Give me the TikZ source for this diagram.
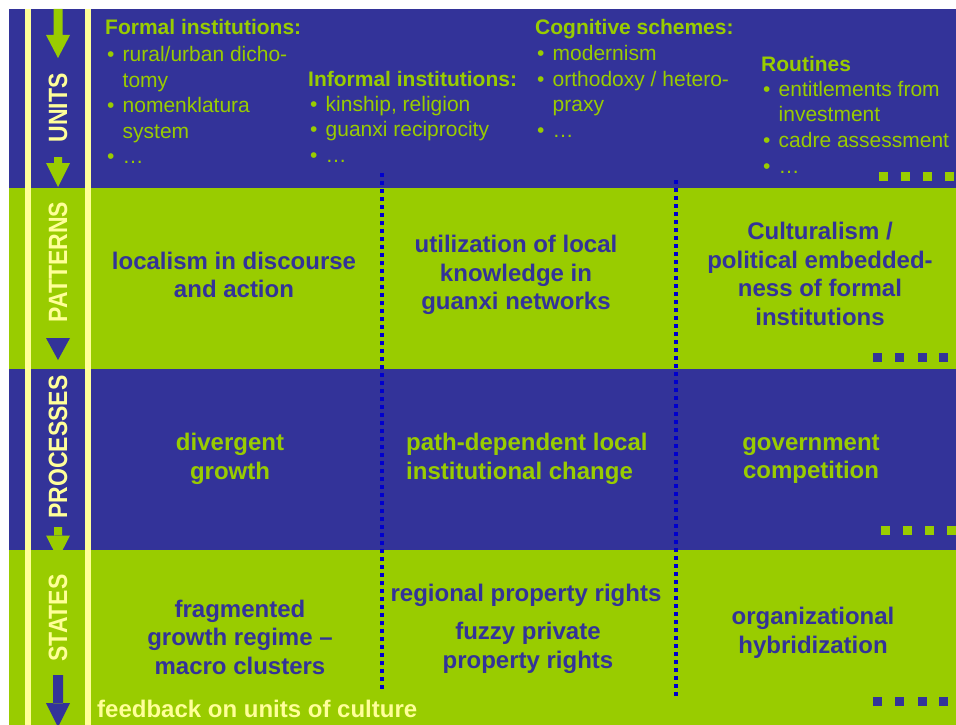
\documentclass[tikz,border=0pt]{standalone}
\usepackage{fontspec}
\usepackage{graphicx}
\setmainfont{Liberation Sans}
\definecolor{dblue}{HTML}{333399}
\definecolor{lgreen}{HTML}{99CC00}
\definecolor{pyellow}{HTML}{FFFF99}
\definecolor{dotblue}{HTML}{0000CC}
\newcommand{\myhd}[1]{\hbox{\bfseries #1}}
\newcommand{\mybi}[1]{\hbox{\hspace*{2pt}\makebox[15.5pt][l]{•}#1}}
\newcommand{\myct}[1]{\hbox{\hspace*{17.5pt}#1}}
\begin{document}
\begin{tikzpicture}[x=1pt,y=-1pt,
  toptext/.style={anchor=base west, inner sep=0pt, text=lgreen},
  midtext/.style={inner sep=0pt, align=center, font=\fontsize{24}{28.5}\selectfont\bfseries},
  bluetext/.style={midtext, text=dblue},
  greentext/.style={midtext, text=lgreen},
  sidelabel/.style={inner sep=0pt, rotate=90, text=pyellow, font=\fontsize{23}{27}\selectfont\bfseries},
  dotline/.style={draw=dotblue, line width=4pt, dash pattern=on 4pt off 4pt},
  yline/.style={fill=pyellow}]
\useasboundingbox (0,0) rectangle (956,725);
\fill[white] (0,0) rectangle (956,725);
% row backgrounds
\fill[dblue] (9,9) rectangle (956,187.5);
\fill[lgreen] (9,187.5) rectangle (956,369);
\fill[dblue] (9,369) rectangle (956,550);
\fill[lgreen] (9,550) rectangle (956,725);
% yellow vertical lines
\fill[yline] (24.5,9) rectangle (30.5,725);
\fill[yline] (84.5,9) rectangle (90.5,725);
% arrows in the left column
\fill[lgreen] (53.5,9) rectangle (62.5,35) (46,35) -- (70,35) -- (58,58) -- cycle;
\fill[lgreen] (54,157) rectangle (62,163) (46,163) -- (70,163) -- (58,187) -- cycle;
\fill[dblue] (46,338) -- (70,338) -- (58,360) -- cycle;
\fill[lgreen] (54,527) rectangle (62,536) (46,535.5) -- (70,535.5) -- (58,559) -- cycle;
\fill[dblue] (53,675) rectangle (63,703.5) (46,703) -- (70,703) -- (58,727) -- cycle;
% side labels
\node[sidelabel] (lunits) at (58,108) {\scalebox{1}[1.15]{UNITS}};
\node[sidelabel] (lpatterns) at (58,262) {\scalebox{1}[1.15]{PATTERNS}};
\node[sidelabel] (lprocesses) at (58,447) {\scalebox{1}[1.15]{PROCESSES}};
\node[sidelabel] (lstates) at (58,618) {\scalebox{1}[1.15]{STATES}};
% dotted separators
\draw[dotline] (382,173) -- (382,690);
\draw[dotline] (676,180) -- (676,698);
% square dots
\foreach \x in {879,901,923,945} \fill[lgreen] (\x,172) rectangle ++(9,9);
\foreach \x in {873,895,918,939} \fill[dblue] (\x,353) rectangle ++(9,9);
\foreach \x in {881,903,925,947} \fill[lgreen] (\x,526) rectangle ++(9,9);
\foreach \x in {873,895,918,939} \fill[dblue] (\x,697) rectangle ++(9,9);
% units row texts
\node[toptext] (formal) at (105,35) {\vtop{\fontsize{21}{25.5}\selectfont
  \myhd{Formal institutions:}\vskip1.5pt
  \mybi{rural/urban dicho-}\myct{tomy}\mybi{nomenklatura}\myct{system}\mybi{…}}};
\node[toptext] (informal) at (308,86) {\vtop{\fontsize{21}{25.5}\selectfont
  \myhd{Informal institutions:}\vskip0pt
  \mybi{kinship, religion}\mybi{guanxi reciprocity}\mybi{…}}};
\node[toptext] (cognitive) at (535,35) {\vtop{\fontsize{21}{25.5}\selectfont
  \myhd{Cognitive schemes:}\vskip0.5pt
  \mybi{modernism}\mybi{orthodoxy / hetero-}\myct{praxy}\mybi{…}}};
\node[toptext] (routines) at (761,71) {\vtop{\fontsize{21}{25.5}\selectfont
  \myhd{Routines}\vskip0pt
  \mybi{entitlements from}\myct{investment}\mybi{cadre assessment}\mybi{…}}};
% patterns row
\node[bluetext] (pa) at (234,275) {localism in discourse\\and action};
\node[bluetext] (pb) at (516,275) {utilization of local\\knowledge in\\guanxi networks};
\node[bluetext] (pc) at (820,274) {Culturalism /\\political embedded-\\ness of formal\\institutions};
% processes row
\node[greentext] (ra) at (230,459) {divergent\\growth};
\node[greentext, align=left, anchor=west] (rb) at (406,459) {path-dependent local\\institutional change};
\node[greentext] (rc) at (811,459) {government\\competition};
% states row
\node[bluetext] (sa) at (240,637) {fragmented\\growth regime –\\macro clusters};
\node[bluetext] (sb1) at (526,595) {regional property rights};
\node[bluetext] (sb2) at (528,648) {fuzzy private\\property rights};
\node[bluetext] (sc) at (813,633) {organizational\\hybridization};
% feedback
\node[anchor=base west, inner sep=0pt, text=pyellow, font=\fontsize{24}{28}\selectfont\bfseries] (feedback) at (97,717.5) {feedback on units of culture};
\end{tikzpicture}
\end{document}
